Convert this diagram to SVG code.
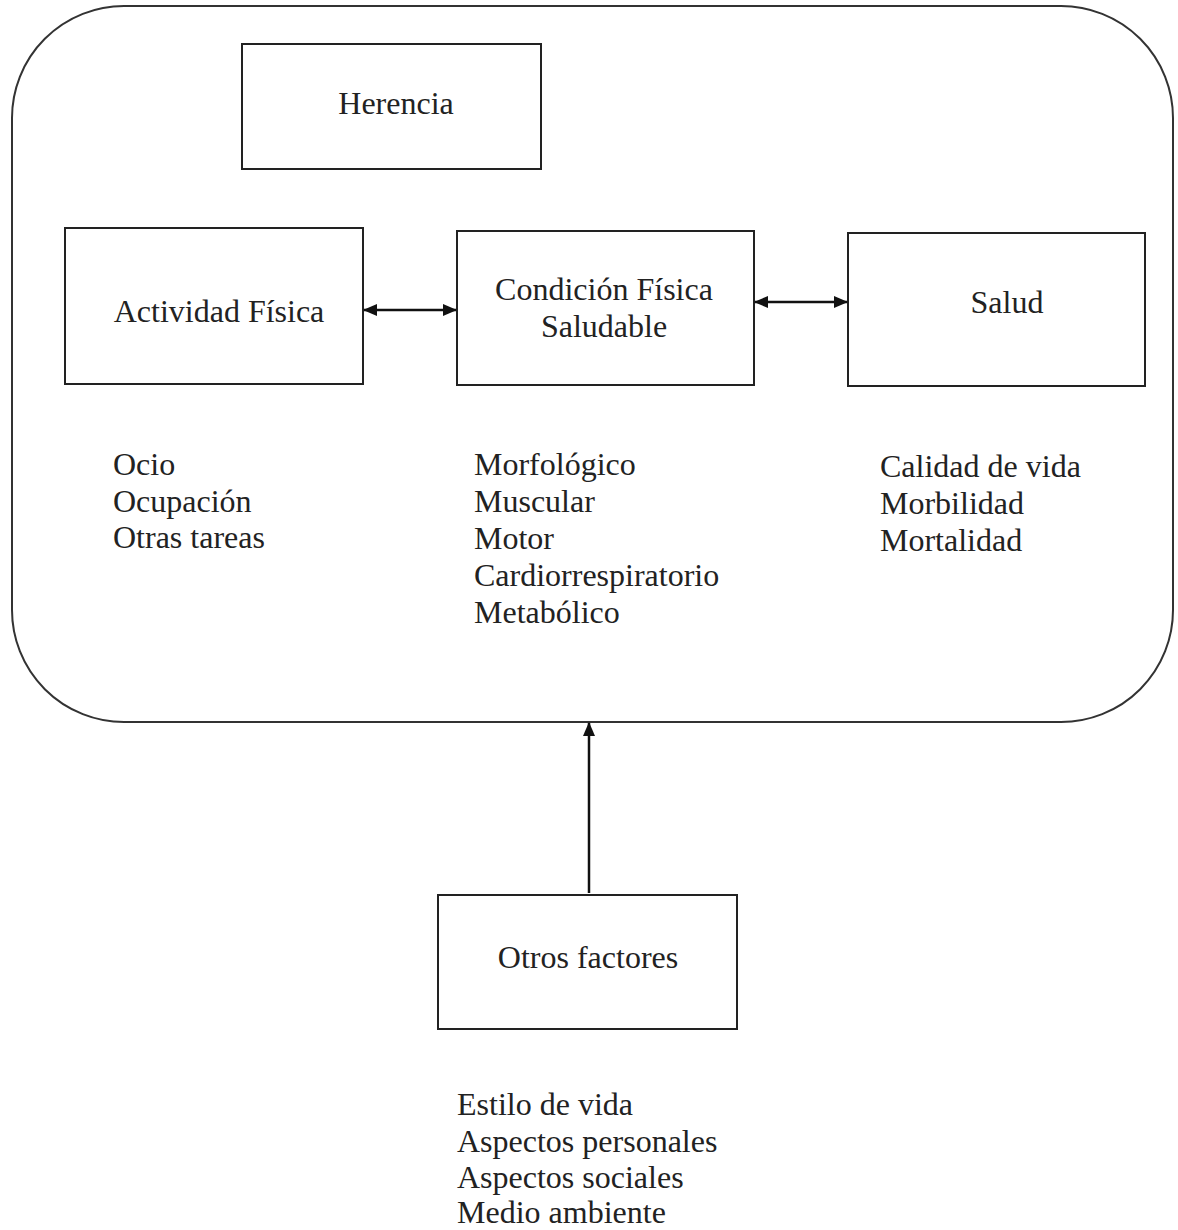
<svg xmlns="http://www.w3.org/2000/svg" width="1178" height="1230" viewBox="0 0 1178 1230">
  <style>
    .box { fill: #ffffff; stroke: #222222; stroke-width: 2; }
    .frame { fill: #ffffff; stroke: #333333; stroke-width: 2; }
    .lbl { font-family: "Liberation Serif", "Times New Roman", serif; font-size: 32px; fill: #222222; }
    .mid { text-anchor: middle; }
    .conn { stroke: #111111; stroke-width: 2.5; fill: none; }
  </style>
  <defs>
    <marker id="head" viewBox="0 0 14 12" refX="13" refY="6" markerWidth="14" markerHeight="12" markerUnits="userSpaceOnUse" orient="auto-start-reverse">
      <path d="M0,0 L14,6 L0,12 Z" fill="#111111"/>
    </marker>
  </defs>
  <rect width="1178" height="1230" fill="#ffffff"/>

  <!-- enclosing frame -->
  <g id="frame">
    <rect class="frame" x="12" y="6" width="1161" height="716" rx="112" ry="112"/>
  </g>

  <g id="herencia">
    <rect class="box" x="242" y="44" width="299" height="125"/>
    <text class="lbl mid" x="396" y="114">Herencia</text>
  </g>

  <g id="actividad">
    <rect class="box" x="65" y="228" width="298" height="156"/>
    <text class="lbl mid" x="219" y="322">Actividad Física</text>
    <text class="lbl" x="113" y="475">Ocio</text>
    <text class="lbl" x="113" y="512">Ocupación</text>
    <text class="lbl" x="113" y="548">Otras tareas</text>
  </g>

  <g id="condicion">
    <rect class="box" x="457" y="231" width="297" height="154"/>
    <text class="lbl mid" x="604" y="300">Condición Física</text>
    <text class="lbl mid" x="604" y="337">Saludable</text>
    <text class="lbl" x="474" y="475">Morfológico</text>
    <text class="lbl" x="474" y="512">Muscular</text>
    <text class="lbl" x="474" y="549">Motor</text>
    <text class="lbl" x="474" y="586">Cardiorrespiratorio</text>
    <text class="lbl" x="474" y="623">Metabólico</text>
  </g>

  <g id="salud">
    <rect class="box" x="848" y="233" width="297" height="153"/>
    <text class="lbl mid" x="1007" y="313">Salud</text>
    <text class="lbl" x="880" y="477">Calidad de vida</text>
    <text class="lbl" x="880" y="514">Morbilidad</text>
    <text class="lbl" x="880" y="551">Mortalidad</text>
  </g>

  <g id="otros">
    <rect class="box" x="438" y="895" width="299" height="134"/>
    <text class="lbl mid" x="588" y="968">Otros factores</text>
    <text class="lbl" x="457" y="1115">Estilo de vida</text>
    <text class="lbl" x="457" y="1152">Aspectos personales</text>
    <text class="lbl" x="457" y="1188">Aspectos sociales</text>
    <text class="lbl" x="457" y="1223">Medio ambiente</text>
  </g>

  <g id="connectors">
    <line class="conn" x1="364" y1="310" x2="456" y2="310" marker-start="url(#head)" marker-end="url(#head)"/>
    <line class="conn" x1="755" y1="302" x2="847" y2="302" marker-start="url(#head)" marker-end="url(#head)"/>
    <line class="conn" x1="589" y1="893" x2="589" y2="723" marker-end="url(#head)"/>
  </g>
</svg>
